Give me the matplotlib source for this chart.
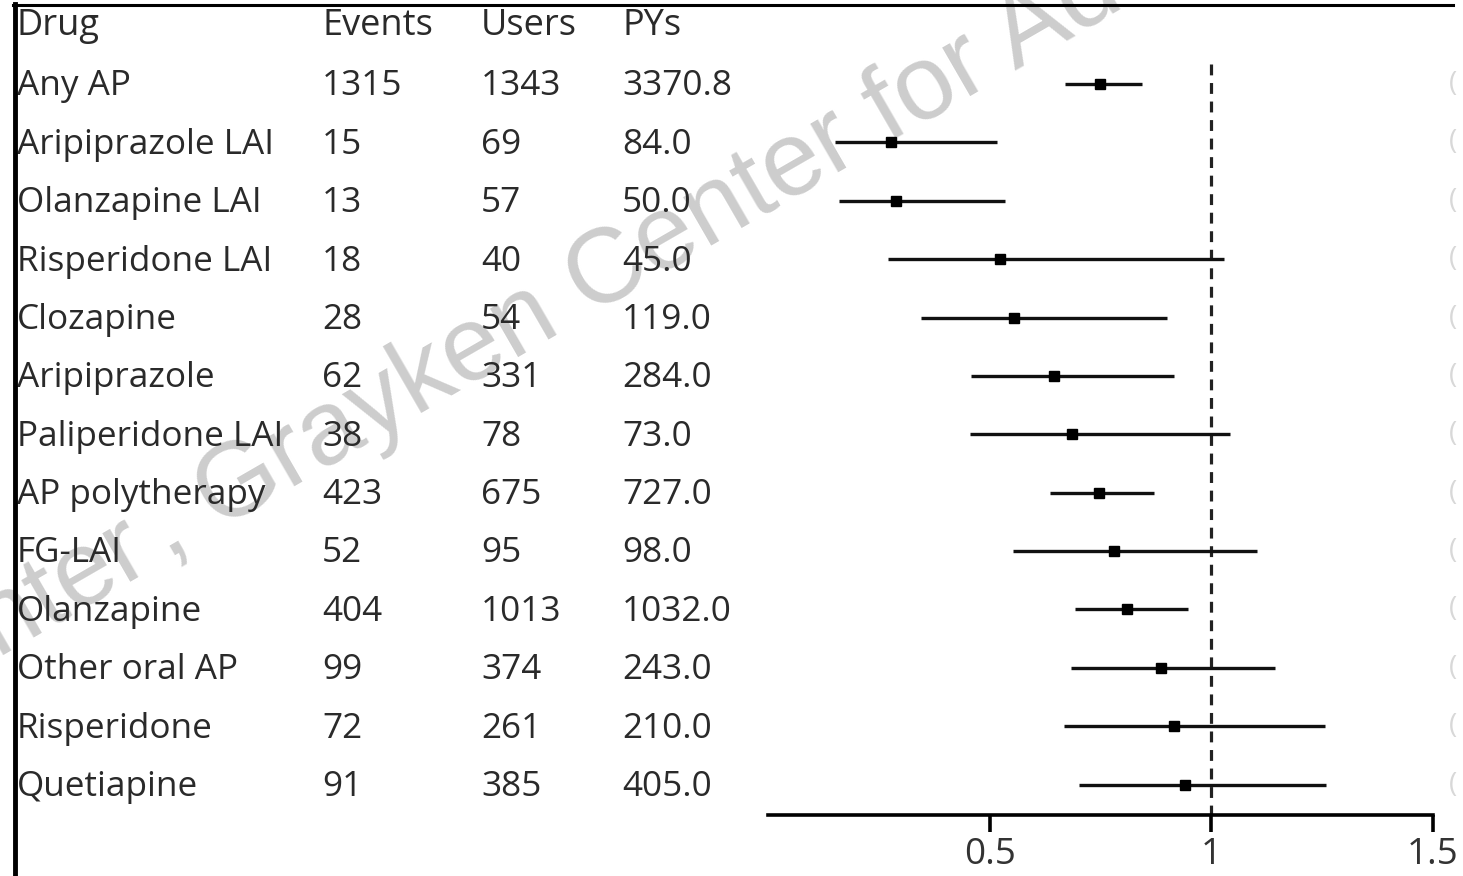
import matplotlib
matplotlib.use("Agg")
import matplotlib.pyplot as plt
import matplotlib.transforms as mtransforms

plt.rcParams["font.family"] = ["Open Sans", "DejaVu Sans"]

# data
drugs = ["Any AP", "Aripiprazole LAI", "Olanzapine LAI", "Risperidone LAI", "Clozapine",
         "Aripiprazole", "Paliperidone LAI", "AP polytherapy", "FG-LAI", "Olanzapine",
         "Other oral AP", "Risperidone", "Quetiapine"]
events = ["1315", "15", "13", "18", "28", "62", "38", "423", "52", "404", "99", "72", "91"]
users = ["1343", "69", "57", "40", "54", "331", "78", "675", "95", "1013", "374", "261", "385"]
pys = ["3370.8", "84.0", "50.0", "45.0", "119.0", "284.0", "73.0", "727.0", "98.0",
       "1032.0", "243.0", "210.0", "405.0"]
hr = [0.749, 0.277, 0.289, 0.524, 0.555, 0.646, 0.686, 0.746, 0.780, 0.810, 0.886, 0.915, 0.941]
lo = [0.671, 0.152, 0.160, 0.270, 0.345, 0.457, 0.455, 0.637, 0.553, 0.693, 0.684, 0.668, 0.702]
hi = [0.844, 0.517, 0.535, 1.029, 0.900, 0.916, 1.042, 0.870, 1.103, 0.947, 1.144, 1.257, 1.258]
headers = ["Drug", "Events", "Users", "PYs"]
xticks = [0.5, 1, 1.5]

W, H = 1463, 876
fig = plt.figure(figsize=(W / 100, H / 100), dpi=100)

# watermark, behind everything else
wm_kw = dict(rotation=30, rotation_mode="anchor", va="baseline", fontsize=76,
             family="Liberation Sans", color="#cdcdcd", zorder=-5)
fig.text(167 / W, 1 - 560 / H, ", Grayken Center for Addiction", ha="left", **wm_kw)
fig.text(180 / W, 1 - 553 / H, "Center ", ha="right", **wm_kw)

# forest axes: x 0..1.5 spans px 768..1433, bottom spine at px 815
x0, x1 = 768, 1433
ax = fig.add_axes([x0 / W, 1 - 815 / H, (x1 - x0) / W, 815 / H])
ax.set_xlim(0, 1.5)
ax.set_ylim(12.52, -1.44)
ax.patch.set_alpha(0)

rows = list(range(len(drugs)))
ax.hlines(rows, lo, hi, color="#111111", lw=2.4, zorder=3)
ax.plot(hr, rows, "s", color="black", ms=7.5, zorder=4)
ax.vlines(1, -0.35, 12.52, color="#222222", lw=2.3, linestyles=(0, (3.4, 2.4)), zorder=2)

for s in ["top", "right", "left"]:
    ax.spines[s].set_visible(False)
ax.spines["bottom"].set_linewidth(2.6)
ax.set_yticks([])
ax.set_xticks(xticks)
ax.set_xticklabels(["0.5", "1", "1.5"])
ax.tick_params(axis="x", length=12, width=2.6, pad=4, labelsize=26.5, labelcolor="#333333")

# text columns
tr = mtransforms.blended_transform_factory(fig.transFigure, ax.transData)
col_x = [17, 322, 481, 622]
tkw = dict(transform=tr, va="center", ha="left", color="#2a2a2a", clip_on=False)
for cx, h in zip(col_x, headers):
    ax.text(cx / W, -0.99, h, fontsize=26, **tkw)
for i in rows:
    for cx, val in zip(col_x, [drugs[i], events[i], users[i], pys[i]]):
        ax.text(cx / W, i + 0.04, val, fontsize=25.3, **tkw)
    # cut-off CI column at the right edge
    ax.text(1449 / W, i, "(", transform=tr, va="center", ha="left", fontsize=20,
            color="#d8d8d8", clip_on=False)

# frame lines at left and top
fig.add_artist(plt.Line2D([15 / W, 15 / W], [0, 1 - 4 / H], color="black", lw=3.5,
                          transform=fig.transFigure))
fig.add_artist(plt.Line2D([13 / W, 1453 / W], [1 - 5 / H, 1 - 5 / H], color="black", lw=2.2,
                          transform=fig.transFigure))

fig.savefig("out.png", dpi=100)
